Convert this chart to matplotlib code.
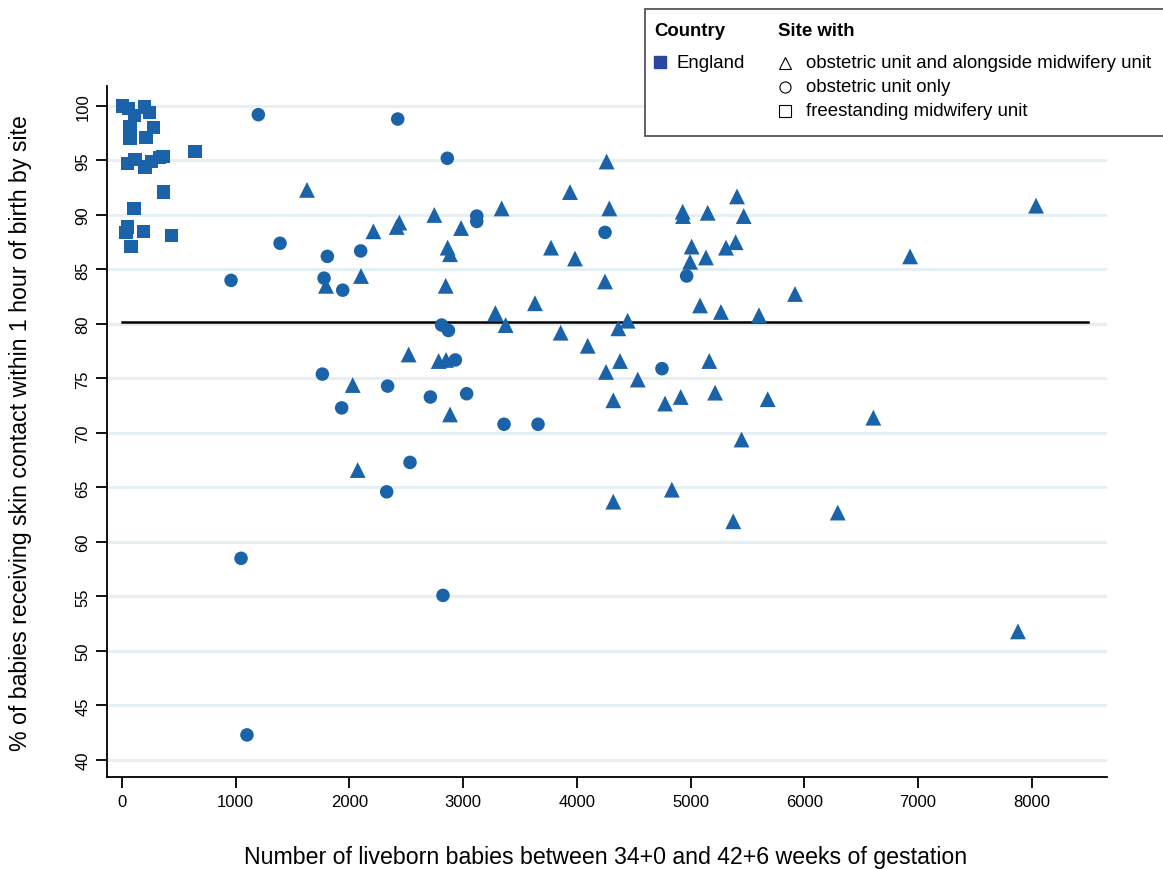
import matplotlib
matplotlib.use("Agg")
import matplotlib.pyplot as plt
from matplotlib.patches import Rectangle
from matplotlib.lines import Line2D

plt.rcParams['font.family'] = ['Liberation Sans', 'DejaVu Sans']

# Freestanding midwifery units
fmu_births = [3, 60, 200, 240, 110, 70, 276, 70, 211, 642, 47, 114, 202, 261,
              330, 360, 363, 106, 47, 35, 188, 437, 79]
fmu_pct = [100.0, 99.8, 99.9, 99.4, 99.1, 98.1, 98.0, 97.0, 97.1, 95.8, 94.7,
           95.1, 94.4, 94.9, 95.3, 95.4, 92.1, 90.6, 88.9, 88.4, 88.5, 88.1, 87.1]

# Obstetric unit only
ou_births = [1199, 2425, 2861, 1390, 959, 1806, 1777, 2099, 1941, 3120, 3120,
             4248, 4966, 2811, 2871, 1762, 2336, 1932, 2712, 2932, 3031, 3360,
             3659, 4749, 2533, 2328, 1047, 2823, 1099]
ou_pct = [99.2, 98.8, 95.2, 87.4, 84.0, 86.2, 84.2, 86.7, 83.1, 89.9, 89.4,
          88.4, 84.4, 79.9, 79.4, 75.4, 74.3, 72.3, 73.3, 76.7, 73.6, 70.8,
          70.8, 75.9, 67.3, 64.6, 58.5, 55.1, 42.3]

# Obstetric unit with alongside midwifery unit
ouamu_births = [1627, 2211, 2439, 2416, 2747, 3339, 3940, 2864, 2885, 2102,
                1794, 2847, 2982, 3773, 3984, 4262, 4286, 4248, 4931, 4934,
                5151, 5409, 5468, 5010, 4996, 5136, 5312, 5397, 5084, 5268,
                5602, 5919, 4447, 4365, 3858, 4096, 3284, 3632, 3374, 4380,
                4257, 4536, 4321, 4776, 4914, 5165, 5216, 5679, 6608, 5449,
                4836, 4321, 5376, 6295, 6931, 8039, 7880, 2029, 2521, 2785,
                2850, 2885, 2073]
ouamu_pct = [92.3, 88.5, 89.3, 88.9, 90.0, 90.6, 92.1, 87.0, 86.4, 84.4,
             83.5, 83.5, 88.8, 87.0, 86.0, 94.9, 90.6, 83.9, 90.3, 89.9,
             90.2, 91.7, 89.9, 87.1, 85.7, 86.1, 87.0, 87.5, 81.7, 81.1,
             80.8, 82.75, 80.3, 79.6, 79.2, 78.0, 81.0, 81.9, 79.9, 76.6,
             75.6, 74.9, 73.0, 72.7, 73.3, 76.6, 73.7, 73.1, 71.4, 69.4,
             64.8, 63.7, 61.9, 62.7, 86.2, 90.85, 51.8, 74.4, 77.2, 76.6,
             76.7, 71.7, 66.6]

overall_pct = 80.2
overall_xmax = 8500

x_ticks = [0, 1000, 2000, 3000, 4000, 5000, 6000, 7000, 8000]
y_ticks = [40, 45, 50, 55, 60, 65, 70, 75, 80, 85, 90, 95, 100]

W, H = 1163, 870
DOT = '#1b63a8'

fig = plt.figure(figsize=(W / 100, H / 100), dpi=100)
fig.patch.set_facecolor('white')

ax_l, ax_r, ax_t, ax_b = 107, 1107, 87, 778
ax = fig.add_axes([ax_l / W, 1 - ax_b / H, (ax_r - ax_l) / W, (ax_b - ax_t) / H])

ax.set_xlim(-132, 8663)
ax.set_ylim(38.44, 101.83)

for v in y_ticks:
    ax.axhline(v, color='#e6eff1', lw=2.2, zorder=0)

ax.plot([0, overall_xmax], [overall_pct, overall_pct], color='black', lw=1.8, zorder=1)

ax.scatter(fmu_births, fmu_pct, marker='s', s=90, color=DOT, edgecolors='none', zorder=3)
ax.scatter(ou_births, ou_pct, marker='o', s=95, color=DOT, edgecolors='none', zorder=3)
ax.scatter(ouamu_births, ouamu_pct, marker='^', s=130, color=DOT, edgecolors='none', zorder=3)

for side in ['top', 'right']:
    ax.spines[side].set_visible(False)
for side in ['left', 'bottom']:
    ax.spines[side].set_linewidth(1.3)
    ax.spines[side].set_color('black')

ax.set_xticks(x_ticks)
ax.set_yticks(y_ticks)
ax.set_yticklabels([str(v) for v in y_ticks], rotation=90, va='center')
ax.tick_params(axis='both', length=8, width=1.3, labelsize=12, pad=4)

fig.text(606 / W, 1 - 858 / H,
         'Number of liveborn babies between 34+0 and 42+6 weeks of gestation',
         ha='center', va='center', fontsize=16.7)
fig.text(21 / W, 1 - 433 / H,
         '% of babies receiving skin contact within 1 hour of birth by site',
         ha='center', va='center', rotation=90, fontsize=16.7)

# Key box
fig.patches.append(Rectangle((645 / W, 1 - 137 / H), 530 / W, 127 / H,
                             transform=fig.transFigure, facecolor='white',
                             edgecolor='#555555', lw=1.3, zorder=5))
fig.text(654 / W, 1 - 32 / H, 'Country', fontsize=13.4, fontweight='bold',
         va='center', ha='left', zorder=6)
fig.text(778 / W, 1 - 32 / H, 'Site with', fontsize=13.4, fontweight='bold',
         va='center', ha='left', zorder=6)
fig.lines.append(Line2D([660 / W], [1 - 63 / H], marker='s', markersize=9,
                        color='#2a46a0', transform=fig.transFigure, zorder=6))
fig.text(677 / W, 1 - 64 / H, 'England', fontsize=13.4, va='center', ha='left', zorder=6)

key_rows = [('^', 'obstetric unit and alongside midwifery unit', 64),
            ('o', 'obstetric unit only', 88),
            ('s', 'freestanding midwifery unit', 112)]
for mk, label, yy in key_rows:
    fig.lines.append(Line2D([785 / W], [1 - yy / H], marker=mk, markersize=8 if mk != '^' else 8.5,
                            markerfacecolor='none', markeredgecolor='black',
                            markeredgewidth=0.8, transform=fig.transFigure, zorder=6))
    fig.text(806 / W, 1 - yy / H, label, fontsize=13.4, va='center', ha='left', zorder=6)

fig.savefig('out.png', dpi=100, facecolor='white')
